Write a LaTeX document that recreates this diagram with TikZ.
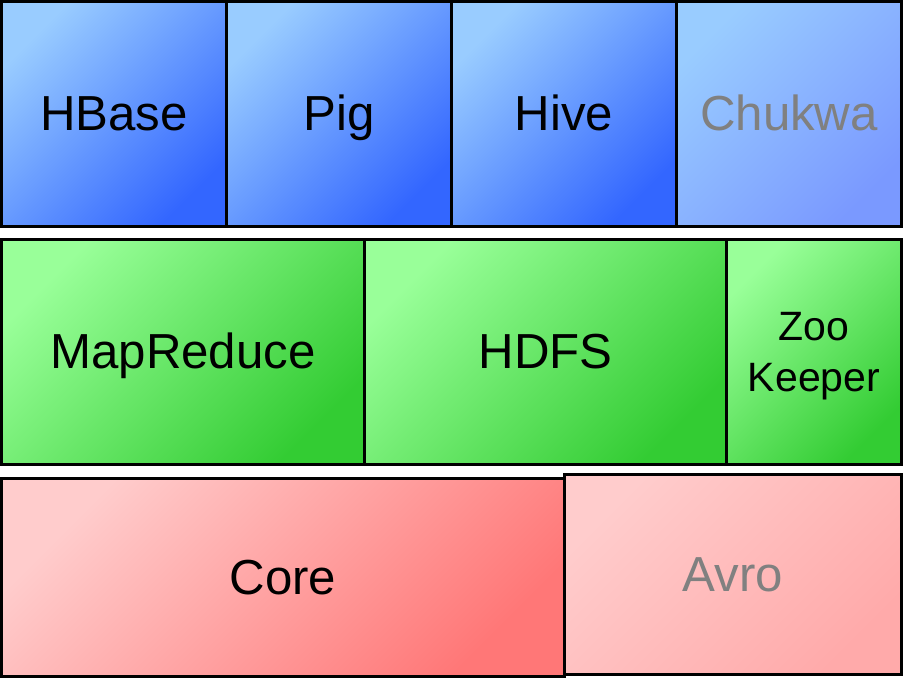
\documentclass[tikz,border=0pt]{standalone}
\usepackage{fontspec}
\setmainfont{Liberation Sans}
\definecolor{BlueLight}{RGB}{153,204,255}
\definecolor{BlueDark}{RGB}{51,102,255}
\definecolor{BlueFade}{RGB}{122,153,255}
\definecolor{GreenLight}{RGB}{153,255,153}
\definecolor{GreenDark}{RGB}{51,204,51}
\definecolor{RedLight}{RGB}{255,204,204}
\definecolor{RedDark}{RGB}{255,119,119}
\definecolor{RedFade}{RGB}{255,170,170}
\definecolor{TextGray}{RGB}{128,128,128}

\tikzset{
  box/.style={draw=black, line width=0.09cm, inner sep=0pt, outer sep=0pt,
    minimum height=6.75cm, text height=0.99cm, text depth=0pt,
    font=\fontsize{42}{50}\selectfont},
  bluebox/.style={box, top color=BlueLight, bottom color=BlueDark, shading angle=45},
  fadebluebox/.style={box, top color=BlueLight, bottom color=BlueFade, shading angle=45, text=TextGray},
  greenbox/.style={box, top color=GreenLight, bottom color=GreenDark, shading angle=45},
  redbox/.style={box, top color=RedLight, bottom color=RedDark, shading angle=45},
  faderedbox/.style={box, top color=RedLight, bottom color=RedFade, shading angle=45, text=TextGray},
}

\begin{document}
\begin{tikzpicture}[x=0.03cm, y=-0.03cm]
    \useasboundingbox (0,0) rectangle (904,679);
    % top row
    \node[bluebox, minimum width=6.75cm] (hbase) at (114,114) {HBase};
    \node[bluebox, minimum width=6.75cm] (pig) at (339,114) {Pig};
    \node[bluebox, minimum width=6.75cm] (hive) at (564,114) {Hive};
    \node[fadebluebox, minimum width=6.75cm] (chukwa) at (789,114) {Chukwa};
    % middle row
    \node[greenbox, minimum width=10.89cm] (mapreduce) at (183,352) {MapReduce};
    \node[greenbox, minimum width=10.86cm] (hdfs) at (545.5,352) {HDFS};
    \node[greenbox, minimum width=5.25cm, align=center, text height=, text depth=0pt,
      font=\fontsize{35}{43}\selectfont] (zookeeper) at (814,352) {Zoo\\Keeper};
    % bottom row
    \node[redbox, minimum width=16.89cm, minimum height=5.94cm] (core) at (283,577.5) {Core};
    \node[faderedbox, minimum width=10.11cm, minimum height=6cm] (avro) at (733,574.5) {Avro};
\end{tikzpicture}
\end{document}
